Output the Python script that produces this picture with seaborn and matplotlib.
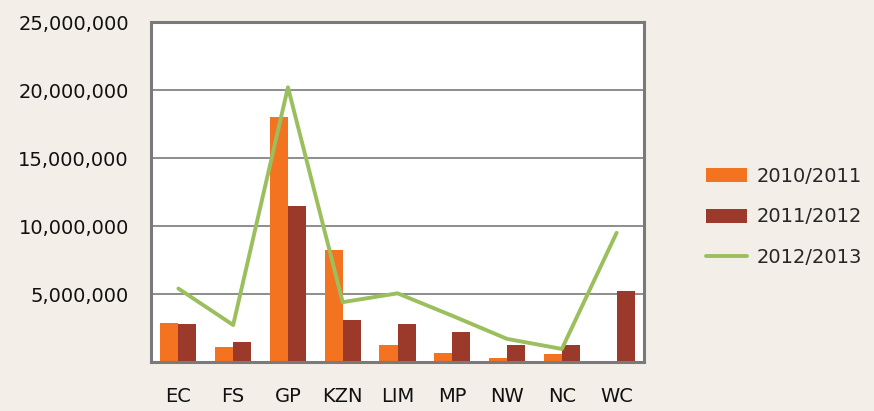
import numpy as np
import pandas as pd
import matplotlib
matplotlib.use("Agg")
import matplotlib.pyplot as plt
import seaborn as sns
from matplotlib.ticker import FuncFormatter

provinces = ["EC", "FS", "GP", "KZN", "LIM", "MP", "NW", "NC", "WC"]
s2010 = [2.9e6, 1.1e6, 18.0e6, 8.2e6, 1.25e6, 0.66e6, 0.3e6, 0.6e6, 0.0]
s2011 = [2.8e6, 1.47e6, 11.5e6, 3.1e6, 2.8e6, 2.2e6, 1.25e6, 1.25e6, 5.22e6]
s2012 = [5.4e6, 2.72e6, 20.2e6, 4.4e6, 5.05e6, 3.4e6, 1.7e6, 0.96e6, 9.5e6]
series_names = ["2010/2011", "2011/2012", "2012/2013"]
y_ticks = [5e6, 10e6, 15e6, 20e6, 25e6]

bg = "#F3EFE8"
orange = "#F37321"
red = "#9B3A2A"
green = "#9BBF5C"
grid_c = "#858585"

sns.set_style("white")
plt.rcParams["font.family"] = ["DejaVu Sans"]

bars = pd.DataFrame({
    "prov": provinces * 2,
    "val": s2010 + s2011,
    "year": [series_names[0]] * len(provinces) + [series_names[1]] * len(provinces),
})

fig = plt.figure(figsize=(8.74, 4.11), dpi=100, facecolor=bg)
ax = fig.add_axes([151 / 874, 1 - 362 / 411, (644 - 151) / 874, (362 - 22) / 411])
ax.set_facecolor("white")

sns.barplot(data=bars, x="prov", y="val", hue="year", order=provinces,
            palette=[orange, red], width=0.66, gap=0, saturation=1,
            linewidth=0, ax=ax, legend=True)
sns.lineplot(x=np.arange(len(provinces)), y=s2012, color=green, linewidth=2.8,
             ax=ax, label=series_names[2])

ax.set_xlim(-0.5, len(provinces) - 0.5)
ax.set_ylim(0, 25e6)
ax.set_yticks(y_ticks)
ax.yaxis.set_major_formatter(FuncFormatter(lambda v, p: f"{int(v):,}"))
ax.set_xlabel("")
ax.set_ylabel("")
for y in y_ticks[:-1]:
    ax.axhline(y, color=grid_c, linewidth=1.3, zorder=0)
ax.set_axisbelow(True)

ax.tick_params(axis="both", length=0, labelsize=14, colors="#111111")
ax.tick_params(axis="x", pad=18)
ax.tick_params(axis="y", pad=16)

for s in ax.spines.values():
    s.set_visible(True)
    s.set_color("#7A7A7A")
    s.set_linewidth(2.2)

handles, labels = ax.get_legend_handles_labels()
ax.legend(handles, labels, loc="center left", bbox_to_anchor=(706 / 874, 1 - 217 / 411),
          bbox_transform=fig.transFigure, frameon=False, fontsize=14,
          handlelength=2.1, handleheight=0.75, handletextpad=0.5,
          labelspacing=1.1, borderpad=0, borderaxespad=0)

fig.savefig("out.png", dpi=100, facecolor=bg)
